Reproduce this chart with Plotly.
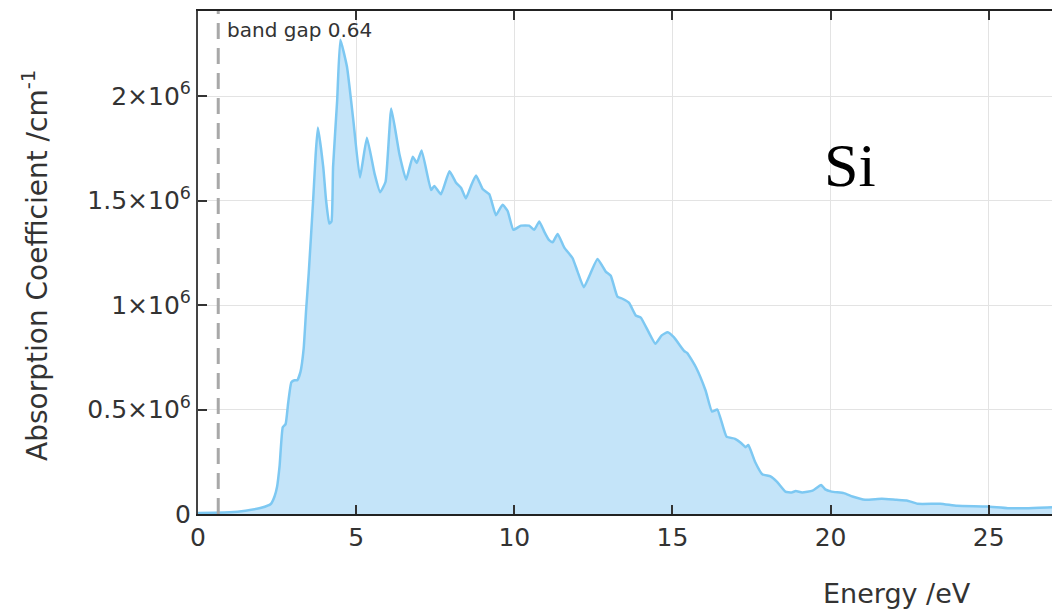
import plotly.graph_objects as go

energy_ev = [0.0, 0.5, 1.0, 1.5, 2.0, 2.3, 2.42, 2.5, 2.58, 2.68, 2.77, 2.85, 2.95, 3.05, 3.14,
             3.24, 3.34, 3.42, 3.5, 3.64, 3.72, 3.79, 3.96, 4.05, 4.15, 4.22, 4.27, 4.4, 4.5,
             4.71, 4.91, 5.12, 5.34, 5.58, 5.76, 5.93, 6.11, 6.37, 6.58, 6.79, 6.92, 7.07,
             7.37, 7.47, 7.68, 7.95, 8.16, 8.32, 8.47, 8.63, 8.79, 9.0, 9.21, 9.42, 9.63,
             9.79, 9.97, 10.21, 10.47, 10.63, 10.79, 10.95, 11.1, 11.21, 11.37, 11.58, 11.84,
             12.0, 12.2, 12.63, 12.89, 13.05, 13.26, 13.42, 13.63, 13.84, 14.0, 14.46, 14.66,
             14.85, 15.05, 15.37, 15.47, 15.75, 16.05, 16.25, 16.42, 16.71, 16.98, 17.17,
             17.31, 17.4, 17.61, 17.84, 18.1, 18.3, 18.57, 18.77, 18.9, 19.1, 19.43, 19.7,
             19.83, 20.03, 20.42, 20.69, 21.09, 21.62, 22.08, 22.41, 22.75, 23.47, 24.0,
             24.93, 25.6, 26.26, 27.0]
absorption_1e6 = [0.005, 0.006, 0.008, 0.016, 0.03, 0.048, 0.084, 0.13, 0.23, 0.415, 0.43, 0.53,
                  0.63, 0.64, 0.64, 0.68, 0.79, 0.98, 1.15, 1.5, 1.72, 1.85, 1.66, 1.5, 1.39,
                  1.4, 1.66, 1.98, 2.27, 2.14, 1.885, 1.61, 1.80, 1.63, 1.54, 1.59, 1.94, 1.72,
                  1.60, 1.71, 1.68, 1.74, 1.55, 1.57, 1.53, 1.64, 1.585, 1.56, 1.51, 1.57, 1.62,
                  1.555, 1.53, 1.43, 1.48, 1.45, 1.36, 1.38, 1.38, 1.36, 1.40, 1.35, 1.31, 1.30,
                  1.34, 1.275, 1.225, 1.16, 1.085, 1.22, 1.16, 1.14, 1.04, 1.03, 1.01, 0.95,
                  0.94, 0.815, 0.855, 0.87, 0.845, 0.78, 0.77, 0.70, 0.59, 0.49, 0.50, 0.37,
                  0.36, 0.34, 0.32, 0.33, 0.25, 0.19, 0.18, 0.155, 0.107, 0.103, 0.11, 0.103,
                  0.112, 0.139, 0.118, 0.107, 0.1, 0.084, 0.068, 0.073, 0.068, 0.065, 0.049,
                  0.049, 0.039, 0.036, 0.028, 0.028, 0.032]
absorption = [v * 1e6 for v in absorption_1e6]

band_gap = 0.64
x_ticks = [0, 5, 10, 15, 20, 25]
y_tickvals = [0, 0.5e6, 1e6, 1.5e6, 2e6]
y_ticktext = ["0", "0.5×10<sup>6</sup>", "1×10<sup>6</sup>", "1.5×10<sup>6</sup>", "2×10<sup>6</sup>"]

FONT = "DejaVu Sans"
TXT = "#333333"

fig = go.Figure()
fig.add_trace(go.Scatter(
    x=energy_ev, y=absorption, mode="lines", fill="tozeroy",
    line=dict(color="rgb(125,200,242)", width=2.5, shape="spline", smoothing=0.4),
    fillcolor="rgb(196,228,249)", showlegend=False,
))

fig.add_shape(type="line", xref="x", yref="paper", x0=band_gap, x1=band_gap, y0=0, y1=1,
              line=dict(color="#a8a8a8", width=3, dash="16px,9px"))

fig.add_annotation(x=band_gap, xref="x", xanchor="left", xshift=7, y=0.963, yref="paper",
                   yanchor="middle", text="band gap 0.64", showarrow=False,
                   font=dict(family=FONT, size=20, color=TXT))
fig.add_annotation(x=0.763, xref="paper", y=0.694, yref="paper", xanchor="center",
                   yanchor="middle", text="Si", showarrow=False,
                   font=dict(family="Liberation Serif", size=62, color="#000"))
fig.add_annotation(x=(897 - 198) / 854, xref="paper", y=(514 - 593) / 503, yref="paper",
                   xanchor="center", yanchor="middle", text="Energy /eV", showarrow=False,
                   font=dict(family=FONT, size=27, color=TXT))
fig.add_annotation(x=-0.191, xref="paper", y=0.495, yref="paper", textangle=-90,
                   xanchor="center", yanchor="middle",
                   text="Absorption Coefficient /cm<sup>-1</sup>", showarrow=False,
                   font=dict(family=FONT, size=28, color=TXT))

fig.update_layout(
    width=1059, height=610,
    margin=dict(l=198, r=7, t=11, b=96, autoexpand=False),
    paper_bgcolor="white", plot_bgcolor="white",
    xaxis=dict(range=[0, 27], tickvals=x_ticks, ticks="inside", ticklen=9, tickwidth=2,
               tickcolor="#333", showline=True, linecolor="#222", linewidth=2, mirror="ticks",
               showgrid=True, gridcolor="#e3e3e3", gridwidth=1, zeroline=False,
               tickfont=dict(family=FONT, size=25, color=TXT)),
    yaxis=dict(range=[0, 2.407e6], tickvals=y_tickvals, ticktext=y_ticktext, ticks="inside",
               ticklen=9, tickwidth=1.5, tickcolor="#333", showline=True, linecolor="#444",
               linewidth=2, showgrid=True, gridcolor="#e3e3e3", gridwidth=1, zeroline=False,
               tickfont=dict(family=FONT, size=25, color=TXT)),
)

fig.write_html("out.html", config={"displayModeBar": False},
               post_script="document.body.style.margin='0';")
